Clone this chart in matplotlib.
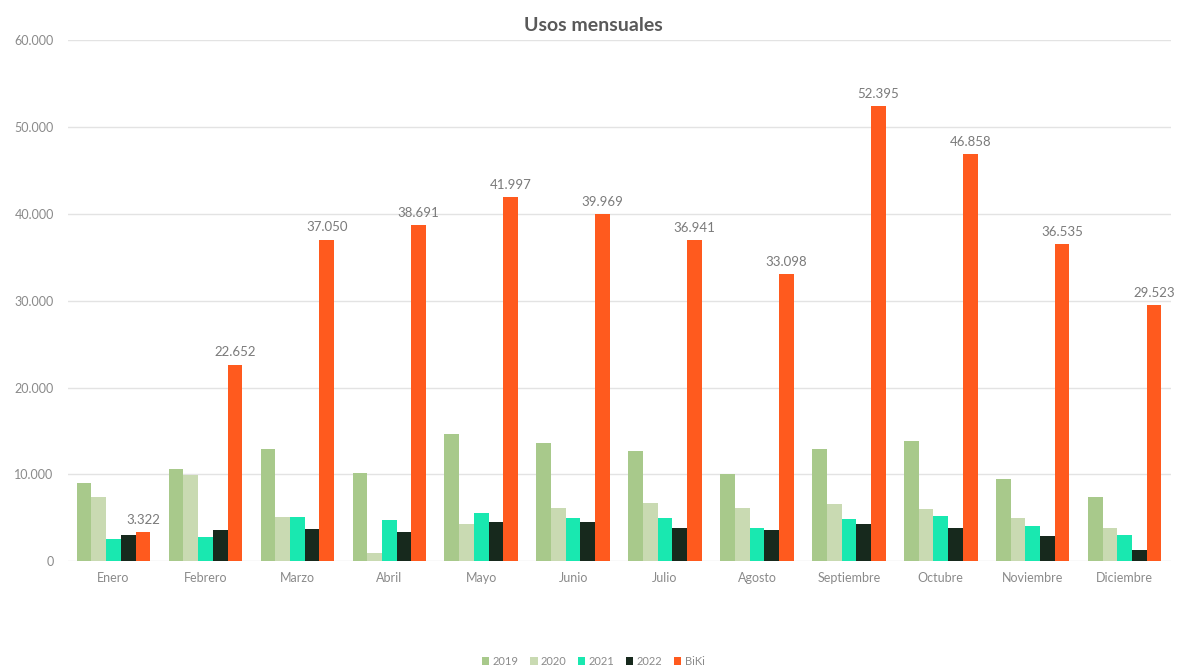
import numpy as np
import matplotlib
matplotlib.use("Agg")
import matplotlib.pyplot as plt
from matplotlib.ticker import FuncFormatter

plt.rcParams['font.family'] = ['Lato', 'DejaVu Sans']

meses = ['Enero', 'Febrero', 'Marzo', 'Abril', 'Mayo', 'Junio', 'Julio',
         'Agosto', 'Septiembre', 'Octubre', 'Noviembre', 'Diciembre']

y2019 = [9000, 10600, 12970, 10170, 14680, 13650, 12660, 10020, 12890, 13800, 9420, 7350]
y2020 = [7350, 9900, 5130, 940, 4260, 6160, 6740, 6090, 6590, 6010, 4950, 3800]
y2021 = [2540, 2730, 5130, 4720, 5590, 4950, 4950, 3870, 4830, 5210, 3990, 2960]
y2022 = [2960, 3610, 3720, 3410, 4560, 4560, 3870, 3530, 4260, 3800, 2840, 1320]
biki = [3322, 22652, 37050, 38691, 41997, 39969, 36941, 33098, 52395, 46858, 36535, 29523]

series = [('2019', y2019, '#a8c98b'),
          ('2020', y2020, '#c9dab2'),
          ('2021', y2021, '#19e8b0'),
          ('2022', y2022, '#17291d'),
          ('BiKi', biki, '#ff5a1e')]

def miles(v, pos=None):
    return f'{int(v):,}'.replace(',', '.')

fig = plt.figure(figsize=(11.86, 6.72), dpi=100)
ax = fig.add_axes([0.057, 0.165, 0.930, 0.775])

x = np.arange(len(meses))
w = 0.16
for i, (name, vals, col) in enumerate(series):
    pos = x + (i - 2) * w
    bars = ax.bar(pos, vals, w, color=col, label=name, zorder=3)
    if name == 'BiKi':
        for b, v in zip(bars, vals):
            ax.text(b.get_x() + b.get_width() / 2, v + 700, miles(v),
                    ha='center', va='bottom', fontsize=9.5, color='#7a7a7a')

ax.set_xlim(-0.5, 11.5)
ax.set_ylim(0, 60000)
ax.set_yticks(range(0, 60001, 10000))
ax.yaxis.set_major_formatter(FuncFormatter(miles))
ax.set_xticks(x)
ax.set_xticklabels(meses)
ax.tick_params(axis='both', length=0, labelsize=9, colors='#8a8a8a')
ax.tick_params(axis='x', pad=8)
ax.tick_params(axis='y', pad=10)
ax.grid(axis='y', color='#e3e3e3', linewidth=1, zorder=0)
for s in ax.spines.values():
    s.set_visible(False)

fig.text(0.5, 0.962, 'Usos mensuales', ha='center', va='center',
         fontsize=14, fontweight='bold', color='#595959')

fig.legend(loc='center', bbox_to_anchor=(0.5, 0.016), ncol=5, frameon=False,
           fontsize=8, labelcolor='#8a8a8a', handlelength=0.7, handleheight=0.7,
           handletextpad=0.3, columnspacing=1.0)

fig.savefig('out.png', dpi=100)
